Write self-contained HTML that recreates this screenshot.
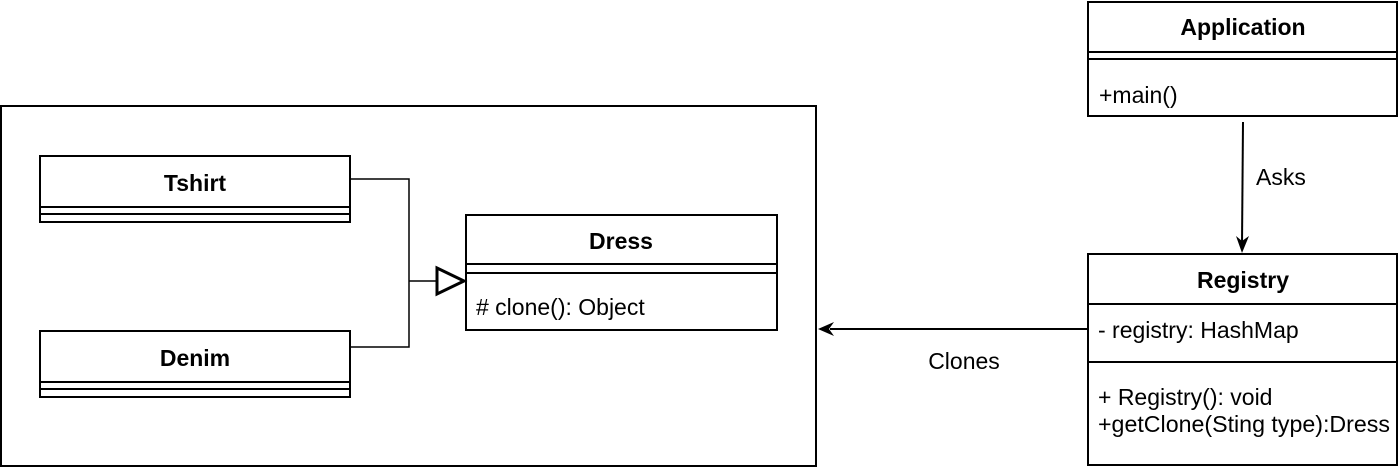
<!DOCTYPE html>
<html><head><style>html,body{margin:0;padding:0;background:#fff;}svg{display:block}</style></head>
<body>
<svg width="1400" height="474" viewBox="0 0 1400 474" xmlns="http://www.w3.org/2000/svg" font-family="Liberation Sans, Arial, sans-serif" font-size="23">
<g fill="none" stroke="#000" stroke-width="2">
<rect x="1" y="106" width="815" height="360"/>
<rect x="40" y="156" width="310" height="66"/>
<line x1="40" y1="207" x2="350" y2="207"/><line x1="40" y1="214" x2="350" y2="214"/>
<rect x="40" y="331" width="310" height="66"/>
<line x1="40" y1="382" x2="350" y2="382"/><line x1="40" y1="389" x2="350" y2="389"/>
<rect x="466" y="215" width="311" height="115"/>
<line x1="466" y1="264" x2="777" y2="264"/><line x1="466" y1="273" x2="777" y2="273"/>
<polyline points="350,179 409,179 409,347 350,347" stroke-width="1.5"/>
<line x1="409" y1="281" x2="437" y2="281" stroke-width="1.5"/>
<polygon points="437,268 464,281 437,294" stroke-width="3"/>
<rect x="1088" y="2" width="309" height="114"/>
<line x1="1088" y1="52" x2="1397" y2="52"/><line x1="1088" y1="59" x2="1397" y2="59"/>
<rect x="1088" y="254" width="309" height="211"/>
<line x1="1088" y1="304" x2="1397" y2="304"/><line x1="1088" y1="362" x2="1397" y2="362"/>
<line x1="1243" y1="122" x2="1242" y2="244"/>
<line x1="1088" y1="329" x2="830" y2="329"/>
</g>
<polygon points="1236,236 1242,253 1249,236 1242,241" fill="#000"/>
<polygon points="818,329 834,322 829,329 834,336" fill="#000"/>
<g text-anchor="middle" font-weight="bold">
<text x="195" y="191">Tshirt</text>
<text x="195" y="366">Denim</text>
<text x="621" y="249">Dress</text>
<text x="1243" y="35">Application</text>
<text x="1243" y="288">Registry</text>
</g>
<text x="476" y="315">#  clone(): Object</text>
<text x="1099" y="103">+main()</text>
<text x="1256" y="185">Asks</text>
<text x="964" y="369" text-anchor="middle">Clones</text>
<text x="1098" y="338">- registry: HashMap</text>
<text x="1098" y="405">+ Registry(): void</text>
<text x="1098" y="432" textLength="292" lengthAdjust="spacingAndGlyphs">+getClone(Sting type):Dress</text>
</svg>
</body></html>
